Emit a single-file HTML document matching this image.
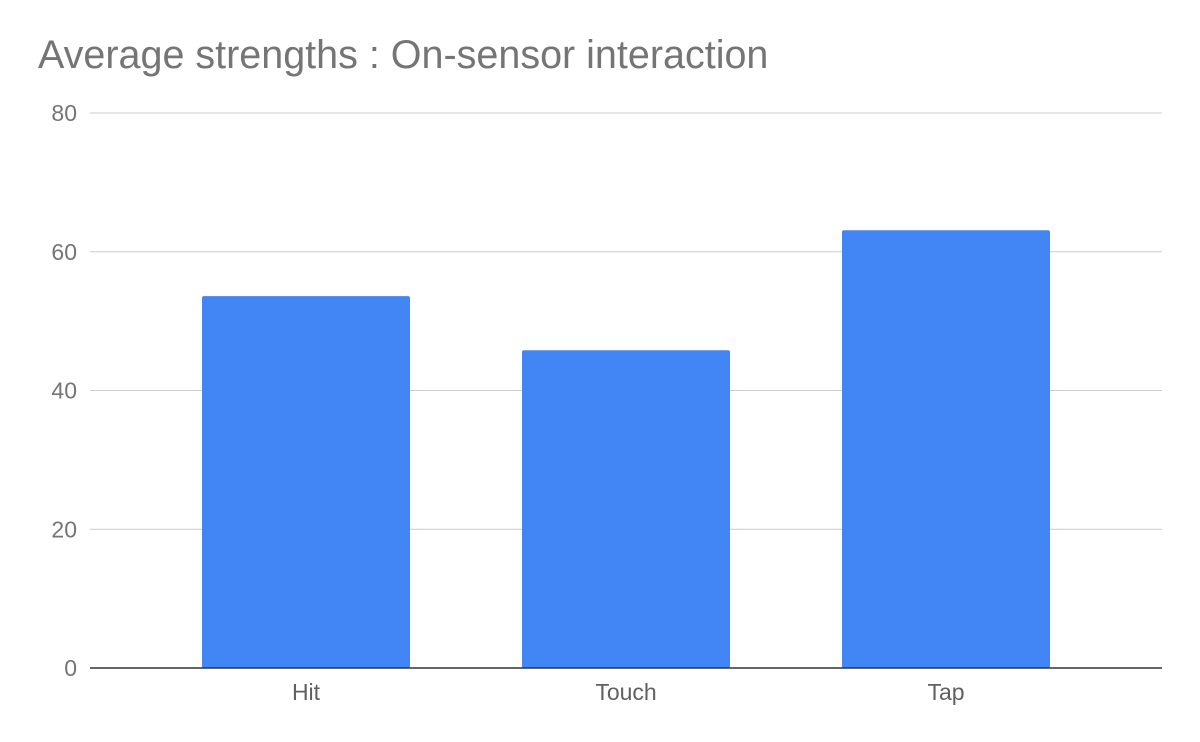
<!DOCTYPE html>
<html><head><meta charset="utf-8"><style>
body{margin:0;background:#fff;}
svg{display:block;font-family:"Liberation Sans",Arial,sans-serif;}
</style></head><body>
<svg id="chart" width="1200" height="742">
<rect width="1200" height="742" fill="#fff"/>
<text x="38" y="68" font-size="39.5" fill="#757575">Average strengths : On-sensor interaction</text>
<g id="grid"></g>
<g id="bars"></g>
<g id="xlabels"></g>
</svg>
<script>
const categories = ["Hit", "Touch", "Tap"];
const values = [53.6, 45.8, 63.1];
const yTicks = [0, 20, 40, 60, 80];
const NS = "http://www.w3.org/2000/svg";
const y0 = 668, yTop = 113, yMax = 80;
function yScale(v){ return y0 - (v / yMax) * (y0 - yTop); }
function xCenter(i){ return 306 + i * 320; }
const barW = 208;
const grid = document.getElementById('grid');
yTicks.forEach(t => {
  const l = document.createElementNS(NS, 'line');
  
  
  l.setAttribute('x1', 90); l.setAttribute('x2', 1162);
  l.setAttribute('y1', yScale(t)); l.setAttribute('y2', yScale(t));
  l.setAttribute('stroke', '#ccc');
  l.setAttribute('stroke-width', 1);
  grid.appendChild(l);
  const tx = document.createElementNS(NS, 'text');
  
  
  tx.setAttribute('x', 77); tx.setAttribute('y', yScale(t) + 8);
  tx.setAttribute('text-anchor', 'end'); tx.setAttribute('font-size', '23');
  tx.setAttribute('fill', '#757575');
  tx.textContent = t;
  grid.appendChild(tx);
});
const bars = document.getElementById('bars');
const xl = document.getElementById('xlabels');
categories.forEach((c, i) => {
  const r = document.createElementNS(NS, 'rect');
  
  
  const top = yScale(values[i]);
  r.setAttribute('x', xCenter(i) - barW / 2); r.setAttribute('y', top);
  r.setAttribute('width', barW); r.setAttribute('height', y0 - top);
  r.setAttribute('fill', '#4285f4'); r.setAttribute('rx', 2);
  bars.appendChild(r);
  const tx = document.createElementNS(NS, 'text');
  
  
  tx.setAttribute('x', xCenter(i)); tx.setAttribute('y', 700);
  tx.setAttribute('text-anchor', 'middle'); tx.setAttribute('font-size', '23');
  tx.setAttribute('fill', '#616161');
  tx.textContent = c;
  xl.appendChild(tx);
});
const base = document.createElementNS(NS, 'line');


base.setAttribute('x1', 90); base.setAttribute('x2', 1162);
base.setAttribute('y1', y0); base.setAttribute('y2', y0);
base.setAttribute('stroke', '#333'); base.setAttribute('stroke-width', 1.5);
document.getElementById('chart').appendChild(base);
</script>
</body></html>
